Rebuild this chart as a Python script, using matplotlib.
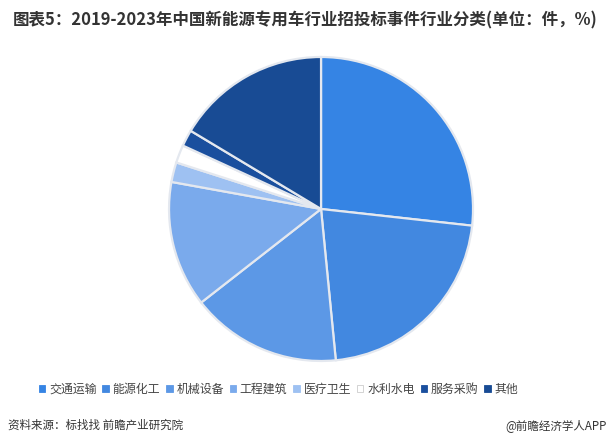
import matplotlib
matplotlib.use('Agg')
from matplotlib import pyplot as plt
from matplotlib.patches import Patch

plt.rcParams['font.family'] = ['Noto Sans CJK SC', 'DejaVu Sans']

# 数据
categories = ['交通运输', '能源化工', '机械设备', '工程建筑', '医疗卫生', '水利水电', '服务采购', '其他']
shares = [26.75, 21.7, 16.0, 13.4, 2.1, 1.9, 1.75, 16.4]
colors = ['#3584e4', '#4288e0', '#5c98e6', '#7aaaec', '#9ec1f2', '#ffffff', '#1a4f9e', '#184b94']

fig = plt.figure(figsize=(6.16, 4.48), dpi=100)
ax = fig.add_axes([0.2744, 0.1942, 0.4935, 0.6786])
ax.pie(shares,
       colors=colors,
       startangle=90,
       counterclock=False,
       radius=1.0,
       wedgeprops=dict(edgecolor='#e4e8ef', linewidth=1.6))
ax.set_xlim(-1.0, 1.0)
ax.set_ylim(-1.0, 1.0)
ax.set_aspect('equal')
ax.axis('off')

# 标题
fig.text(0.02, 0.955, '图表5：2019-2023年中国新能源专用车行业招投标事件行业分类(单位：件，%)',
         fontsize=11.9, fontweight='bold', color='#333333', va='center', ha='left')

# 图例
handles = [Patch(facecolor=c, edgecolor='#cccccc' if c == '#ffffff' else c, linewidth=0.6)
           for c in colors]
fig.legend(handles, categories, loc='center', bbox_to_anchor=(0.452, 0.131), ncol=8,
           frameon=False, fontsize=8.6, handlelength=0.55, handleheight=0.55,
           handletextpad=0.3, columnspacing=0.5, labelcolor='#444444')

# 来源
fig.text(0.013, 0.05, '资料来源：标找找 前瞻产业研究院', fontsize=8.3, color='#333333',
         va='center', ha='left')
fig.text(0.985, 0.05, '@前瞻经济学人APP', fontsize=8.3, color='#333333',
         va='center', ha='right')

plt.savefig('out.png', dpi=100)
